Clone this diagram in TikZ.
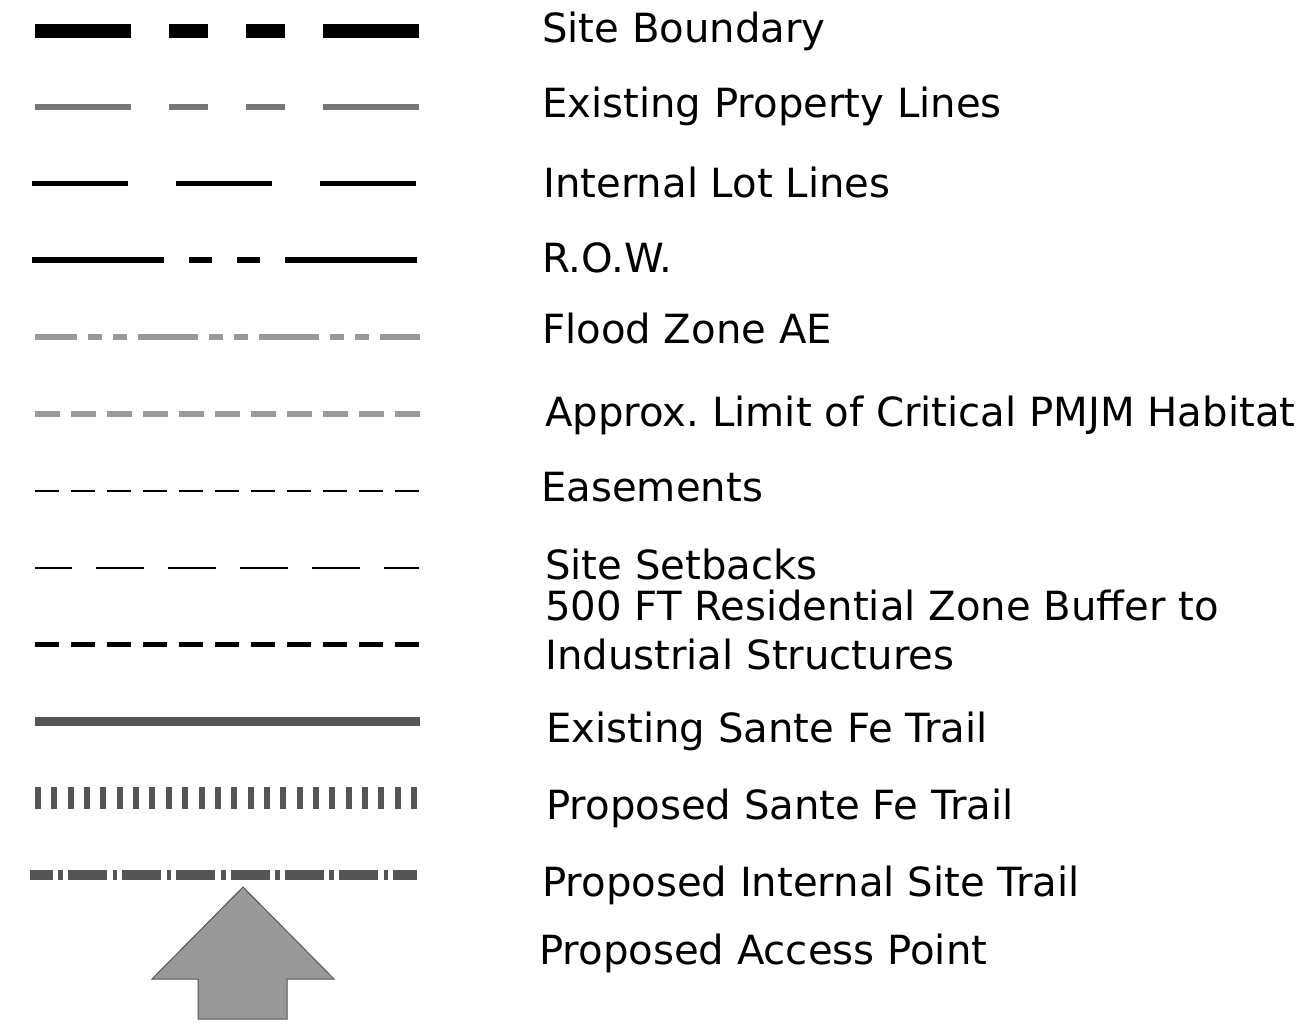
\documentclass[tikz,border=0pt]{standalone}
\usepackage{fontspec}
\setmainfont{DejaVu Sans}
\frenchspacing

\definecolor{propgray}{HTML}{777777}
\definecolor{floodgray}{HTML}{999999}
\definecolor{trailgray}{HTML}{555555}

\tikzset{
  boundary/.style={line width=14pt, dash pattern=on 96pt off 38pt on 39pt off 38pt on 39pt off 38pt on 96pt off 38pt},
  property/.style={propgray, line width=6pt, dash pattern=on 96pt off 38pt on 39pt off 38pt on 39pt off 38pt on 96pt off 38pt},
  lotline/.style={line width=5pt, dash pattern=on 96pt off 48pt},
  rowline/.style={line width=6pt, dash pattern=on 132pt off 25pt on 23pt off 25pt on 23pt off 25pt on 132pt off 25pt},
  floodline/.style={floodgray, line width=6pt, dash pattern=on 60pt off 11pt on 14pt off 11pt on 14pt off 11pt, dash phase=18pt},
  habitat/.style={floodgray, line width=6pt, dash pattern=on 25pt off 11pt},
  easement/.style={line width=2.5pt, dash pattern=on 24pt off 12pt},
  setback/.style={line width=2pt, dash pattern=on 48pt off 24pt, dash phase=11pt},
  buffer/.style={line width=5pt, dash pattern=on 24pt off 12pt},
  trail/.style={trailgray, line width=9pt},
  newtrail/.style={trailgray, line width=22pt, dash pattern=on 6pt off 10.35pt},
  sitetrail/.style={trailgray, line width=10pt, dash pattern=on 39pt off 5.5pt on 4.7pt off 5pt, dash phase=16.2pt},
  access/.style={fill=floodgray, draw=trailgray, line width=1pt}
}

\begin{document}
\begin{tikzpicture}[x=1pt,y=-1pt]

        \useasboundingbox (0,0) rectangle (1308,1029);

        \begin{scope}[every node/.style={anchor=base west, inner sep=0pt, font=\fontsize{40.2}{48}\selectfont}]
          \node (1)  at (542,42)  {Site Boundary};
          \node (2)  at (542,117) {Existing Property Lines};
          \node (3)  at (543,197) {Internal Lot Lines};
          \node (4)  at (542,272) {R.O.W.};
          \node (5)  at (542,343) {Flood Zone AE};
          \node (6)  at (545,426) {Approx. Limit of Critical PMJM Habitat};
          \node (7)  at (541,501) {Easements};
          \node (8)  at (545,579) {Site Setbacks};
          \node (9)  at (545,620) {500 FT Residential Zone Buffer to};
          \node (10) at (545,669) {Industrial Structures};
          \node (11) at (546,742) {Existing Sante Fe Trail};
          \node (12) at (546,819) {Proposed Sante Fe Trail};
          \node (13) at (542,896) {Proposed Internal Site Trail};
          \node (14) at (539,964) {Proposed Access Point};
        \end{scope}

        \begin{scope}
          \coordinate (1a)  at (35,31);    \coordinate (1b)  at (419,31);
          \coordinate (2a)  at (35,107);   \coordinate (2b)  at (419,107);
          \coordinate (3a)  at (32,183.5); \coordinate (3b)  at (417,183.5);
          \coordinate (4a)  at (32,260);   \coordinate (4b)  at (417,260);
          \coordinate (5a)  at (35,337);   \coordinate (5b)  at (420,337);
          \coordinate (6a)  at (35,414);   \coordinate (6b)  at (420,414);
          \coordinate (7a)  at (35,491);   \coordinate (7b)  at (420,491);
          \coordinate (8a)  at (35,568);   \coordinate (8b)  at (419,568);
          \coordinate (9a)  at (35,644);   \coordinate (9b)  at (419,644);
          \coordinate (10a) at (35,721);   \coordinate (10b) at (420,721);
          \coordinate (11a) at (35,798);   \coordinate (11b) at (420,798);
          \coordinate (12a) at (30,875);   \coordinate (12b) at (417,875);
        \end{scope}

        \path (1a)  edge[boundary]  (1b);
        \path (2a)  edge[property]  (2b);
        \path (3a)  edge[lotline]   (3b);
        \path (4a)  edge[rowline]   (4b);
        \path (5a)  edge[floodline] (5b);
        \path (6a)  edge[habitat]   (6b);
        \path (7a)  edge[easement]  (7b);
        \path (8a)  edge[setback]   (8b);
        \path (9a)  edge[buffer]    (9b);
        \path (10a) edge[trail]     (10b);
        \path (11a) edge[newtrail]  (11b);
        \path (12a) edge[sitetrail] (12b);

        % access point arrow
        \draw[access] (243,887) -- (334,979) -- (287,979) -- (287,1019)
          -- (198,1019) -- (198,979) -- (152,979) -- cycle;

      \end{tikzpicture}
\end{document}
